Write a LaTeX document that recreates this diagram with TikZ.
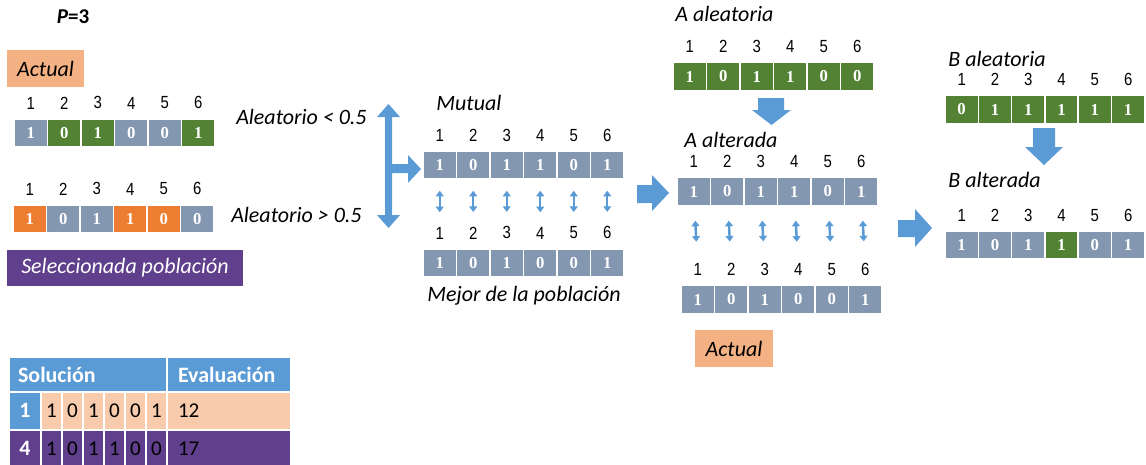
\documentclass[tikz,border=0pt]{standalone}
\usepackage{fontspec}
\setmainfont{Carlito}
\newfontfamily\numfont[FakeStretch=0.85]{Liberation Sans}
\newfontfamily\bitfont{Liberation Serif}
\usepackage{tikz}
\usetikzlibrary{positioning,shapes,arrows.meta}

\definecolor{cellgray}{HTML}{8497B0}
\definecolor{cellgreen}{HTML}{548235}
\definecolor{cellorange}{HTML}{ED7D31}
\definecolor{actualpeach}{HTML}{F4B183}
\definecolor{rowpeach}{HTML}{F8CBAD}
\definecolor{selpurple}{HTML}{60408C}
\definecolor{tblue}{HTML}{5B9BD5}

\begin{document}
\begin{tikzpicture}[x=0.02cm,y=-0.02cm,
  cell/.style={draw=white,line width=0.8,fill=cellgray,minimum width=0.67cm,minimum height=0.56cm,inner sep=0,text=white,font=\bitfont\bfseries\fontsize{9.5}{10}\selectfont},
  colnum/.style={inner sep=0,font=\numfont\fontsize{10}{10}\selectfont},
  lab/.style={inner sep=0,font=\itshape\fontsize{12.5}{14}\selectfont},
  tagbox/.style={lab,minimum height=0.74cm},
  link/.style={draw=tblue,line width=1.4,{Triangle[width=4.5pt,length=3.2pt]}-{Triangle[width=4.5pt,length=3.2pt]}},
  flow/.style={fill=tblue},
  tcell/.style={draw=white,line width=1.2,anchor=north west,inner sep=0,font=\fontsize{12}{14}\selectfont},
  thead/.style={tcell,fill=tblue,text=white,font=\bfseries\fontsize{12.5}{14}\selectfont,align=left}]
\useasboundingbox (0,0) rectangle (1146,464);

\node[inner sep=0,font=\bfseries\fontsize{12}{14}\selectfont] (pval) at (73,17) {\textit{P}=3};
\node[tagbox,fill=actualpeach,minimum width=1.54cm] (actual) at (45.5,68.5) {Actual};

\foreach \b/\c [count=\i] in {1/cellgray,0/cellgreen,1/cellgreen,0/cellgray,0/cellgray,1/cellgreen}{
  \node[cell,fill=\c] (act\i) at ({14+33.5*\i-16.75},133) {\b};
  \node[colnum,above=5pt of act\i] (actn\i) {\i};
}
\foreach \b/\c [count=\i] in {1/cellorange,0/cellgray,1/cellgray,1/cellorange,0/cellorange,0/cellgray}{
  \node[cell,fill=\c] (sel\i) at ({13+33.5*\i-16.75},219) {\b};
  \node[colnum,above=5pt of sel\i] (seln\i) {\i};
}
\node[tagbox,fill=selpurple,text=white,minimum width=4.72cm,minimum height=0.72cm] (selbox) at (125,268) {Seleccionada población};

\node[lab,anchor=east] (lower) at (367,117) {Aleatorio < 0.5};
\node[lab,anchor=east] (upper) at (362,215) {Aleatorio > 0.5};
\fill[flow] (388.5,104) -- (400,117) -- (392,117) -- (392,164) -- (408,164) -- (408,155) -- (421,169) -- (408,183) -- (408,173) -- (392,173) -- (392,215) -- (400,215) -- (388.5,228) -- (377,215) -- (385,215) -- (385,117) -- (377,117) -- cycle;

\node[lab,anchor=west] (mutual) at (436,103) {Mutual};
\foreach \b [count=\i] in {1,0,1,1,0,1}{
  \node[cell] (mut\i) at ({423+33.5*\i-16.75},165) {\b};
  \node[colnum,above=5pt of mut\i] (mutn\i) {\i};
}
\foreach \b [count=\i] in {1,0,1,0,0,1}{
  \node[cell] (best\i) at ({423+33.5*\i-16.75},263) {\b};
  \node[colnum,above=5pt of best\i] (bestn\i) {\i};
}
\foreach \i in {1,...,6}
  \draw[link,shorten <=0.22cm,shorten >=0.29cm] (mut\i) -- (bestn\i);
\node[lab] (mejor) at (524,296) {Mejor de la población};

\fill[flow] (637,185) -- (652,185) -- (652,175) -- (669,193) -- (652,211) -- (652,203) -- (637,203) -- cycle;

\node[lab,anchor=west] (aale) at (675,14) {A aleatoria};
\foreach \b [count=\i] in {1,0,1,1,0,0}{
  \node[cell,fill=cellgreen] (ara\i) at ({673+33.5*\i-16.75},76.5) {\b};
  \node[colnum,above=5pt of ara\i] (aran\i) {\i};
}
\fill[flow] (758,98) -- (784,98) -- (784,110) -- (791,110) -- (771.5,125) -- (752,110) -- (758,110) -- cycle;
\node[lab,anchor=west] (aalt) at (684,140) {A alterada};
\foreach \b [count=\i] in {1,0,1,1,0,1}{
  \node[cell] (alt\i) at ({677+33.5*\i-16.75},191.5) {\b};
  \node[colnum,above=5pt of alt\i] (altn\i) {\i};
}
\foreach \b [count=\i] in {1,0,1,0,0,1}{
  \node[cell] (cur\i) at ({681+33.5*\i-16.75},299.5) {\b};
  \node[colnum,above=5pt of cur\i] (curn\i) {\i};
}
\foreach \i in {1,...,6}
  \draw[link,shorten <=0.29cm,shorten >=0.43cm] (alt\i) -- (curn\i);
\node[tagbox,fill=actualpeach,minimum width=1.56cm] (actual2) at (734,348.5) {Actual};

\fill[flow] (898,220) -- (915,220) -- (915,209) -- (932,228) -- (915,247) -- (915,237) -- (898,237) -- cycle;

\node[lab,anchor=west] (bale) at (948,59) {B aleatoria};
\foreach \b [count=\i] in {0,1,1,1,1,1}{
  \node[cell,fill=cellgreen] (bra\i) at ({945+33.3*\i-16.65},109.5) {\b};
  \node[colnum,above=5pt of bra\i] (bran\i) {\i};
}
\fill[flow] (1033,128) -- (1055,128) -- (1055,147) -- (1063,147) -- (1044,165) -- (1025,147) -- (1033,147) -- cycle;
\node[lab,anchor=west] (balt) at (948,180) {B alterada};
\foreach \b/\c [count=\i] in {1/cellgray,0/cellgray,1/cellgray,1/cellgreen,0/cellgray,1/cellgray}{
  \node[cell,fill=\c] (balt\i) at ({945+33.3*\i-16.65},245) {\b};
  \node[colnum,above=5pt of balt\i] (baltn\i) {\i};
}

\node[thead,minimum width=3.16cm,minimum height=0.7cm,inner xsep=0.18cm,text width=2.8cm] (hsol) at (8,356) {Solución};
\node[thead,minimum width=2.48cm,minimum height=0.7cm,inner xsep=0.22cm,text width=2.04cm] (heva) at (166,356) {Evaluación};
\node[tcell,fill=tblue,text=white,font=\bfseries\fontsize{12.5}{14}\selectfont,minimum width=0.64cm,minimum height=0.75cm] (rid1) at (8,391) {1};
\foreach \b [count=\i] in {1,0,1,0,0,1}
  \node[tcell,fill=rowpeach,minimum width=0.42cm,minimum height=0.75cm] (ra\i) at ({40+21*(\i-1)},391) {\b};
\node[tcell,fill=rowpeach,minimum width=2.48cm,minimum height=0.75cm,inner xsep=0.22cm,text width=2.04cm,align=left] (reva1) at (166,391) {12};
\node[tcell,fill=selpurple,text=white,font=\bfseries\fontsize{12.5}{14}\selectfont,minimum width=0.64cm,minimum height=0.75cm] (rid2) at (8,428.5) {4};
\foreach \b [count=\i] in {1,0,1,1,0,0}
  \node[tcell,fill=selpurple,minimum width=0.42cm,minimum height=0.75cm] (rb\i) at ({40+21*(\i-1)},428.5) {\b};
\node[tcell,fill=selpurple,minimum width=2.48cm,minimum height=0.75cm,inner xsep=0.22cm,text width=2.04cm,align=left] (reva2) at (166,428.5) {17};
\end{tikzpicture}
\end{document}
